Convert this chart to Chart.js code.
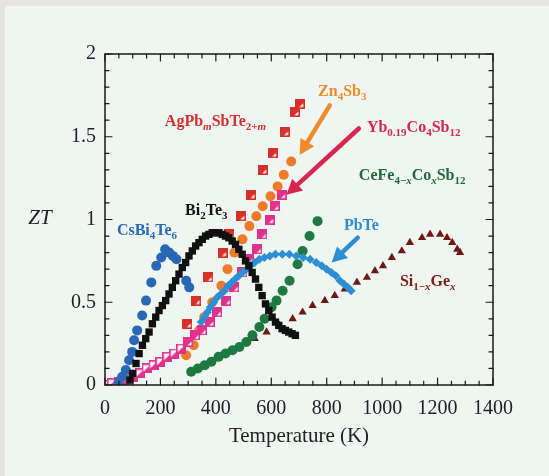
<!DOCTYPE html>
<html>
<head>
<meta charset="utf-8">
<script src="https://cdn.jsdelivr.net/npm/chart.js@4.4.1/dist/chart.umd.min.js"></script>
<style>
  html, body { margin: 0; padding: 0; background: #e4e4e4; }
  canvas { display: block; }
</style>
</head>
<body>
<canvas id="myChart" width="549" height="476"></canvas>
<script>
// values: temperature (K) and ZT for each material
var bi2te3T  = [90,100,112,123,135,147,159,171,183,195,207,219,231,243,255,267,279,291,303,315,327,339,351,363,375,387,399,411,423,435,447,459,471,483,495,507,519,531,543,555,567,579,591,603,615,627,639,651,663,675,687];
var bi2te3ZT = [0.03,0.07,0.13,0.19,0.24,0.28,0.32,0.37,0.41,0.45,0.48,0.51,0.55,0.59,0.63,0.67,0.71,0.74,0.78,0.81,0.84,0.86,0.88,0.90,0.91,0.92,0.92,0.92,0.91,0.90,0.89,0.87,0.85,0.82,0.79,0.75,0.72,0.68,0.64,0.59,0.54,0.49,0.45,0.41,0.38,0.36,0.34,0.33,0.32,0.31,0.30];

var csbiT  = [50,62,75,87,98,105,116,134,148,167,185,203,217,232,245,258,293,304];
var csbiZT = [0.02,0.05,0.09,0.15,0.20,0.27,0.33,0.42,0.51,0.62,0.72,0.77,0.82,0.80,0.78,0.76,0.63,0.59];

var pbteT  = [347,358,369,380,392,405,418,431,444,457,470,483,496,510,524,540,557,575,595,615,640,665,690,715,740,762,782,800,817,833,848,862,876,888];
var pbteZT = [0.38,0.41,0.44,0.47,0.50,0.53,0.55,0.57,0.60,0.62,0.64,0.66,0.68,0.70,0.72,0.74,0.76,0.77,0.78,0.79,0.79,0.79,0.78,0.77,0.76,0.74,0.72,0.70,0.68,0.66,0.63,0.61,0.59,0.57];

var ybT  = [0,25,50,75,100,125,150,175,200,225,250,275,300,325,350,378,405,438,467,496,521,550,568,594,612,637];
var ybZT = [0,0.01,0.02,0.03,0.05,0.07,0.10,0.12,0.14,0.17,0.19,0.22,0.26,0.30,0.33,0.38,0.44,0.51,0.59,0.68,0.76,0.82,0.91,1.00,1.08,1.15];

var znT  = [293,320,340,358,387,420,442,467,496,521,546,569,597,623,645,672];
var znZT = [0.18,0.24,0.33,0.41,0.50,0.60,0.70,0.80,0.88,0.96,1.02,1.08,1.14,1.20,1.27,1.35];

var agT  = [297,329,373,424,449,490,527,569,605,648,685,703];
var agZT = [0.37,0.51,0.65,0.80,0.91,1.02,1.15,1.30,1.40,1.53,1.65,1.70];

var cefeT  = [311,335,360,384,410,435,460,485,510,532,557,576,601,619,641,666,695,713,738,767];
var cefeZT = [0.08,0.10,0.12,0.14,0.17,0.19,0.21,0.23,0.26,0.30,0.35,0.40,0.47,0.51,0.57,0.63,0.73,0.81,0.90,0.99];

var sigeT  = [540,583,630,677,713,749,793,829,865,909,945,974,1003,1035,1071,1100,1144,1173,1209,1234,1253,1271,1281];
var sigeZT = [0.28,0.32,0.36,0.40,0.44,0.48,0.51,0.54,0.58,0.62,0.65,0.69,0.72,0.77,0.81,0.86,0.89,0.91,0.91,0.89,0.86,0.82,0.80];

var xTicks = [0,200,400,600,800,1000,1200,1400];
var yTicks = [0,0.5,1,1.5,2];

function pts(xs, ys) {
  return xs.map(function (x, i) { return {x: x, y: ys[i]}; });
}

function squareImg(color, open) {
  var n = 10;
  var c = document.createElement('canvas');
  c.width = n; c.height = n;
  var g = c.getContext('2d');
  g.fillStyle = '#fff';
  g.fillRect(0, 0, n, n);
  g.fillStyle = color;
  g.beginPath();
  if (open) { g.moveTo(n, 0); g.lineTo(n, n); g.lineTo(0, n); }
  else { g.moveTo(0, 0); g.lineTo(n, 0); g.lineTo(n, 3); g.lineTo(3, n); g.lineTo(0, n); }
  g.closePath();
  g.fill();
  g.strokeStyle = color;
  g.lineWidth = 1.6;
  g.strokeRect(0.8, 0.8, n - 1.6, n - 1.6);
  return c;
}
var agImg = squareImg('#d8302a', false);
var ybImg = squareImg('#e0328c', false);
var ybOpen = squareImg('#e0328c', true);

var serif = '"Liberation Serif", "Times New Roman", serif';

// text labels (data units: left edge, vertical centre) and arrows
var labels = [
  {x: 216, y: 1.60, color: '#d8302a', parts: [['AgPb'], ['m', 'si'], ['SbTe'], ['2+', 's'], ['m', 'si']]},
  {x: 769, y: 1.78, color: '#f08a2a', parts: [['Zn'], ['4', 's'], ['Sb'], ['3', 's']]},
  {x: 945, y: 1.56, color: '#d9264f', parts: [['Yb'], ['0.19', 's'], ['Co'], ['4', 's'], ['Sb'], ['12', 's']]},
  {x: 916, y: 1.27, color: '#1d6b3c', parts: [['CeFe'], ['4\u2212', 's'], ['x', 'si'], ['Co'], ['x', 'si'], ['Sb'], ['12', 's']]},
  {x: 289, y: 1.06, color: '#111111', parts: [['Bi'], ['2', 's'], ['Te'], ['3', 's']]},
  {x: 43,  y: 0.94, color: '#2a68b5', parts: [['CsBi'], ['4', 's'], ['Te'], ['6', 's']]},
  {x: 862, y: 0.97, color: '#2d8ed3', parts: [['PbTe']]},
  {x: 1064, y: 0.63, color: '#7a1c14', parts: [['Si'], ['1\u2212', 's'], ['x', 'si'], ['Ge'], ['x', 'si']]}
];
var arrows = [
  {x1: 811, y1: 1.69, x2: 702, y2: 1.39, color: '#f08a2a'},
  {x1: 916, y1: 1.55, x2: 655, y2: 1.15, color: '#d9264f'},
  {x1: 912, y1: 0.89, x2: 818, y2: 0.74, color: '#2d8ed3'}
];

var decor = {
  id: 'decor',
  beforeDraw: function (chart) {
    var c = chart.ctx;
    c.save();
    c.fillStyle = '#e4e4e4';
    c.fillRect(0, 0, chart.width, chart.height);
    c.fillStyle = '#eff6f1';
    c.fillRect(5, 6, chart.width, chart.height);
    c.restore();
  },
  afterDatasetsDraw: function (chart) {
    var c = chart.ctx, xs = chart.scales.x, ys = chart.scales.y, a = chart.chartArea;
    c.save();
    // arrows
    arrows.forEach(function (ar) {
      var x1 = xs.getPixelForValue(ar.x1), y1 = ys.getPixelForValue(ar.y1);
      var x2 = xs.getPixelForValue(ar.x2), y2 = ys.getPixelForValue(ar.y2);
      var ang = Math.atan2(y2 - y1, x2 - x1), hl = 15, hw = 8;
      var bx = x2 - hl * Math.cos(ang), by = y2 - hl * Math.sin(ang);
      c.strokeStyle = ar.color; c.fillStyle = ar.color;
      c.lineWidth = 4.5; c.lineCap = 'round';
      c.beginPath(); c.moveTo(x1, y1); c.lineTo(bx, by); c.stroke();
      c.beginPath();
      c.moveTo(x2, y2);
      c.lineTo(bx + hw * Math.sin(ang), by - hw * Math.cos(ang));
      c.lineTo(bx - hw * Math.sin(ang), by + hw * Math.cos(ang));
      c.closePath(); c.fill();
    });
    // labels with subscripts
    var size = 16;
    c.textBaseline = 'alphabetic';
    c.textAlign = 'left';
    labels.forEach(function (lb) {
      var cx = xs.getPixelForValue(lb.x);
      var base = ys.getPixelForValue(lb.y) + size * 0.35;
      c.fillStyle = lb.color;
      lb.parts.forEach(function (p) {
        var kind = p[1] || '';
        var sub = kind.indexOf('s') >= 0, it = kind.indexOf('i') >= 0;
        var fs = sub ? Math.round(size * 0.68) : size;
        c.font = (it ? 'italic ' : '') + 'bold ' + fs + 'px ' + serif;
        c.fillText(p[0], cx, sub ? base + size * 0.25 : base);
        cx += c.measureText(p[0]).width;
      });
    });
    // frame and inward ticks
    c.strokeStyle = '#1a1a1a';
    c.lineWidth = 1.5;
    c.strokeRect(a.left, a.top, a.right - a.left, a.bottom - a.top);
    c.lineWidth = 1.2;
    c.beginPath();
    for (var t = 0; t <= 1400; t += 50) {
      var px = xs.getPixelForValue(t), len = t % 200 === 0 ? 7 : 4;
      c.moveTo(px, a.bottom); c.lineTo(px, a.bottom - len);
      c.moveTo(px, a.top); c.lineTo(px, a.top + len);
    }
    for (var k = 0; k <= 20; k++) {
      var py = ys.getPixelForValue(k / 10), l2 = k % 5 === 0 ? 7 : 4;
      c.moveTo(a.left, py); c.lineTo(a.left + l2, py);
      c.moveTo(a.right, py); c.lineTo(a.right - l2, py);
    }
    c.stroke();
    // y title, horizontal italic
    c.fillStyle = '#222';
    c.font = 'italic 21px ' + serif;
    c.textAlign = 'center';
    c.textBaseline = 'middle';
    c.fillText('ZT', 40, 218);
    c.restore();
  }
};

var ctx = document.getElementById('myChart').getContext('2d');
var myChart = new Chart(ctx, {
  type: 'scatter',
  data: {
    datasets: [{
      label: 'Bi2Te3',
      data: pts(bi2te3T, bi2te3ZT),
      pointStyle: 'rect',
      pointRadius: 5.2,
      backgroundColor: '#111111',
      borderColor: '#111111',
      borderWidth: 0
    }, {
      label: 'CsBi4Te6',
      data: pts(csbiT, csbiZT),
      pointRadius: 5,
      backgroundColor: '#2a68b5',
      borderColor: '#2a68b5',
      borderWidth: 0
    }, {
      label: 'PbTe',
      data: pts(pbteT, pbteZT),
      pointStyle: 'rectRot',
      pointRadius: 4.5,
      backgroundColor: '#2d8ed3',
      borderColor: '#2d8ed3',
      borderWidth: 0
    }, {
      label: 'Yb0.19Co4Sb12',
      data: pts(ybT, ybZT),
      pointStyle: function (c) { return c.raw && c.raw.x < 290 ? ybOpen : ybImg; }
    }, {
      label: 'Zn4Sb3',
      data: pts(znT, znZT),
      pointRadius: 5,
      backgroundColor: '#f07a2a',
      borderColor: '#f07a2a',
      borderWidth: 0
    }, {
      label: 'AgPbmSbTe2+m',
      data: pts(agT, agZT),
      pointStyle: agImg
    }, {
      label: 'CeFe4-xCoxSb12',
      data: pts(cefeT, cefeZT),
      pointRadius: 5,
      backgroundColor: '#1e7a42',
      borderColor: '#1e7a42',
      borderWidth: 0
    }, {
      label: 'Si1-xGex',
      data: pts(sigeT, sigeZT),
      pointStyle: 'triangle',
      pointRadius: 4.8,
      backgroundColor: '#6e1a14',
      borderColor: '#6e1a14',
      borderWidth: 0
    }]
  },
  options: {
    responsive: false,
    animation: false,
    layout: { padding: { left: 0, top: 54, right: 56, bottom: 0 } },
    plugins: { legend: { display: false }, tooltip: { enabled: false } },
    scales: {
      x: {
        type: 'linear',
        min: 0, max: 1400,
        afterBuildTicks: function (s) { s.ticks = xTicks.map(function (v) { return {value: v}; }); },
        afterFit: function (s) { s.height = 91; },
        grid: { display: false, drawTicks: false },
        border: { display: false },
        ticks: {
          padding: 12,
          color: '#222',
          font: { family: serif, size: 20 },
          maxRotation: 0,
          callback: function (v) { return String(v); }
        },
        title: {
          display: true,
          text: 'Temperature (K)',
          color: '#222',
          font: { family: serif, size: 21 },
          padding: { top: 0, bottom: 27 }
        }
      },
      y: {
        min: 0, max: 2,
        afterBuildTicks: function (s) { s.ticks = yTicks.map(function (v) { return {value: v}; }); },
        afterFit: function (s) { s.width = 105; },
        grid: { display: false, drawTicks: false },
        border: { display: false },
        ticks: {
          padding: 9,
          color: '#222',
          font: { family: serif, size: 20 },
          callback: function (v) { return String(v); }
        }
      }
    }
  },
  plugins: [decor]
});
</script>
</body>
</html>
